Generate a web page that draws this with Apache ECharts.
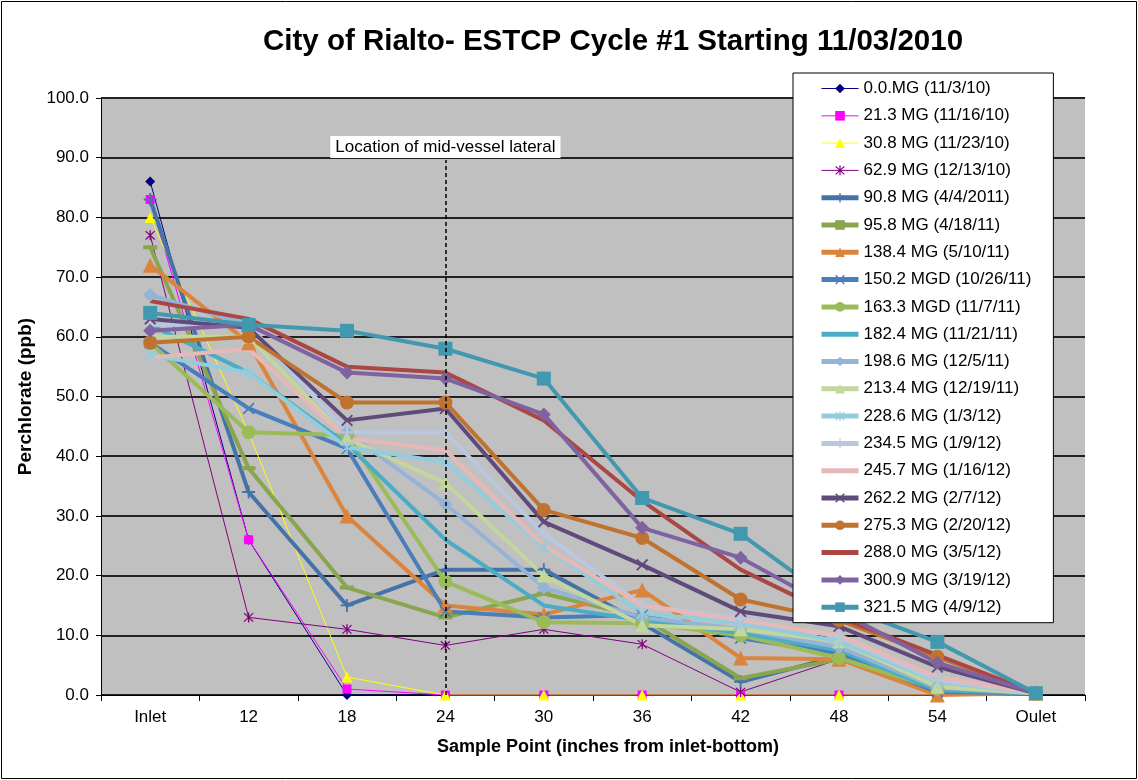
<!DOCTYPE html>
<html>
<head>
<meta charset="utf-8">
<script src="https://cdn.jsdelivr.net/npm/echarts@6.0.0/dist/echarts.min.js"></script>
<style>
  html, body { margin: 0; padding: 0; background: #fff; }
  #myChart { width: 1138px; height: 780px; }
</style>
</head>
<body>
<div id="myChart"></div>
<script>
// sample points along the vessel
const categories = ["Inlet", "12", "18", "24", "30", "36", "42", "48", "54", "Oulet"];
const yTicks = [0, 10, 20, 30, 40, 50, 60, 70, 80, 90, 100];

// perchlorate (ppb) per sampling event
const mg000 = [86, 26, 0, 0, 0, 0, 0, 0, 0, 0];
const mg213 = [83, 26, 1, 0, 0, 0, 0, 0, 0, 0];
const mg308 = [80, 44, 3, 0, 0, 0, 0, 0, 0, 0];
const mg629 = [77, 13, 11, 8.3, 11, 8.5, 0.5, 6, 1, 0.3];
const mg908 = [83, 34, 15, 21, 21, 12, 2.2, 6.5, 0.5, 0.3];
const mg958 = [75, 38, 18, 13, 17, 13, 2.8, 6, 0.8, 0.3];
const mg1384 = [72, 59, 30, 15, 13.5, 17.6, 6.2, 6, 0, 0.3];
const mg1502 = [59, 48, 41.3, 14, 13, 13.4, 9.5, 7, 0.5, 0.3];
const mg1633 = [59, 44, 43.5, 19, 12.2, 12, 10, 6.2, 1, 0.3];
const mg1824 = [62, 54, 42, 26, 15, 12.5, 10.4, 7.5, 0.8, 0.3];
const mg1986 = [67, 62, 44, 32, 18, 13, 11, 8, 1.2, 0.3];
const mg2134 = [60, 60, 43, 35.5, 20, 11.7, 11, 9, 1.4, 0.3];
const mg2286 = [57, 54, 41.5, 39, 24.8, 13.7, 12, 9, 2.2, 0.3];
const mg2345 = [62, 62, 44, 44, 27, 15, 12.8, 9.7, 2.5, 0.3];
const mg2457 = [56.5, 58, 43, 41, 25, 15, 12.5, 10, 3, 0.3];
const mg2622 = [63, 61.5, 46, 48, 29, 21.8, 14, 11.5, 4.7, 0.3];
const mg2753 = [59, 60, 49, 49, 31, 26.3, 16, 12.5, 6.4, 0.3];
const mg2880 = [66, 63, 55, 54, 46, 32.5, 21, 13, 6.7, 0.3];
const mg3009 = [61, 62, 54, 53, 47, 28, 23, 14, 5.4, 0.3];
const mg3215 = [64, 62, 61, 58, 53, 33, 27, 15, 8.9, 0.3];

const lateralAt = "24";

// excel-ish markers
const STAR = "path://M4.4,0 L5.6,0 L5.6,10 L4.4,10 Z M0.4,1.2 L1.2,0.4 L9.6,8.8 L8.8,9.6 Z M8.8,0.4 L9.6,1.2 L1.2,9.6 L0.4,8.8 Z";
const CROSS = "path://M0.3,1.3 L1.3,0.3 L9.7,8.7 L8.7,9.7 Z M8.7,0.3 L9.7,1.3 L1.3,9.7 L0.3,8.7 Z";
const PLUS = "path://M4.3,0 L5.7,0 L5.7,4.3 L10,4.3 L10,5.7 L5.7,5.7 L5.7,10 L4.3,10 L4.3,5.7 L0,5.7 L0,4.3 L4.3,4.3 Z";

const FONT = "Arial, 'Liberation Sans', sans-serif";

function mk(name, data, color, symbol, size, width) {
	return {
		name: name,
		type: "line",
		data: data,
		symbol: symbol,
		symbolSize: size,
		showSymbol: symbol !== "none",
		lineStyle: { color: color, width: width },
		itemStyle: { color: color },
		emphasis: { disabled: true },
		animation: false,
	};
}

const series = [
	mk("0.0.MG (11/3/10)", mg000, "#000080", "diamond", 10, 1),
	mk("21.3 MG (11/16/10)", mg213, "#FF00FF", "rect", 9, 1),
	mk("30.8 MG (11/23/10)", mg308, "#FFFF00", "triangle", 11, 1),
	mk("62.9 MG (12/13/10)", mg629, "#800080", STAR, 10, 1),
	mk("90.8 MG (4/4/2011)", mg908, "#4572A7", PLUS, 13, 4),
	mk("95.8 MG (4/18/11)", mg958, "#89A54E", "rect", [14, 4], 4),
	mk("138.4 MG (5/10/11)", mg1384, "#DB843D", "triangle", 15, 4),
	mk("150.2 MGD (10/26/11)", mg1502, "#4A7EBB", CROSS, 12, 4),
	mk("163.3 MGD (11/7/11)", mg1633, "#9BBB59", "circle", 14, 4),
	mk("182.4 MG (11/21/11)", mg1824, "#4BACC6", "none", 0, 4),
	mk("198.6 MG (12/5/11)", mg1986, "#95B3D7", "diamond", 14, 4),
	mk("213.4 MG (12/19/11)", mg2134, "#C3D69B", "triangle", 14, 4),
	mk("228.6 MG (1/3/12)", mg2286, "#93CDDD", STAR, 13, 4),
	mk("234.5 MG (1/9/12)", mg2345, "#B9C7E0", PLUS, 13, 4),
	mk("245.7 MG (1/16/12)", mg2457, "#E6B9B8", "none", 0, 4),
	mk("262.2 MG (2/7/12)", mg2622, "#604A7B", CROSS, 12, 4),
	mk("275.3 MG (2/20/12)", mg2753, "#C0722F", "circle", 14, 4),
	mk("288.0 MG (3/5/12)", mg2880, "#AA4643", "none", 0, 4),
	mk("300.9 MG (3/19/12)", mg3009, "#7E62A1", "diamond", 14, 4),
	mk("321.5 MG (4/9/12)", mg3215, "#4198AF", "rect", 14, 4),
];

// dashed marker for the mid-vessel lateral
series[series.length - 1].markLine = {
	silent: true,
	symbol: "none",
	animation: false,
	lineStyle: { color: "#000", type: [4, 3], width: 1.5 },
	label: {
		show: true,
		position: "end",
		distance: 2,
		formatter: "Location of mid-vessel lateral",
		color: "#000",
		fontFamily: FONT,
		fontSize: 17,
		backgroundColor: "#fff",
		padding: [3, 5, 2, 5],
	},
	data: [[{ coord: [lateralAt, 0] }, { coord: [lateralAt, 89.6] }]],
};

// legend rows: thick icons for the thick lines, no marker where the series has none
const legendItems = series.map((s) => {
	const item = { name: s.name, lineStyle: { width: s.lineStyle.width > 1 ? 5 : 1 } };
	if (s.symbol === "none") {
		item.itemStyle = { opacity: 0 };
	}
	return item;
});

const option = {
	backgroundColor: "#fff",
	animation: false,
	textStyle: { fontFamily: FONT },
	title: {
		text: "City of Rialto- ESTCP Cycle #1 Starting 11/03/2010",
		left: 608,
		top: 22,
		textAlign: "center",
		textStyle: { fontFamily: FONT, fontSize: 29.5, fontWeight: "bold", color: "#000" },
	},
	legend: {
		orient: "vertical",
		left: 793,
		top: 73,
		padding: [7, 22, 7, 26],
		itemWidth: 37,
		itemHeight: 12,
		itemGap: 10.3,
		backgroundColor: "#fff",
		borderColor: "#000",
		borderWidth: 1,
		borderRadius: 0,
		textStyle: { fontFamily: FONT, fontSize: 17, color: "#000" },
		data: legendItems,
	},
	grid: { left: 101, right: 53, top: 98, bottom: 85 },
	xAxis: {
		type: "category",
		data: categories,
		boundaryGap: true,
		axisLine: { lineStyle: { color: "#000", width: 1 } },
		axisTick: { show: true, length: 6, lineStyle: { color: "#000" } },
		axisLabel: { color: "#000", fontSize: 17, margin: 14, fontFamily: FONT },
		splitLine: { show: false },
	},
	yAxis: {
		type: "value",
		min: yTicks[0],
		max: yTicks[yTicks.length - 1],
		interval: 10,
		name: "Perchlorate (ppb)",
		nameLocation: "middle",
		nameGap: 62,
		nameTextStyle: { fontFamily: FONT, fontSize: 19, fontWeight: "bold", color: "#000" },
		axisLine: { show: true, lineStyle: { color: "#000", width: 1 } },
		axisTick: { show: true, length: 5, lineStyle: { color: "#000" } },
		axisLabel: {
			color: "#000",
			fontSize: 17,
			margin: 12,
			fontFamily: FONT,
			formatter: (v) => v.toFixed(1),
		},
		splitLine: { show: true, lineStyle: { color: "#222", width: 2 } },
		splitArea: { show: true, areaStyle: { color: ["#C0C0C0", "#C0C0C0"] } },
	},
	graphic: [
		{
			type: "rect",
			silent: true,
			z: -10,
			shape: { x: 1.5, y: 1.5, width: 1135, height: 777 },
			style: { fill: null, stroke: "#000", lineWidth: 1 },
		},
		{
			type: "text",
			silent: true,
			left: 437,
			top: 738,
			style: {
				text: "Sample Point (inches from inlet-bottom)",
				font: "bold 18px " + FONT,
				fill: "#000",
			},
		},
	],
	series: series,
};

let myChart = echarts.init(document.getElementById("myChart"));
myChart.setOption(option);
</script>
</body>
</html>
